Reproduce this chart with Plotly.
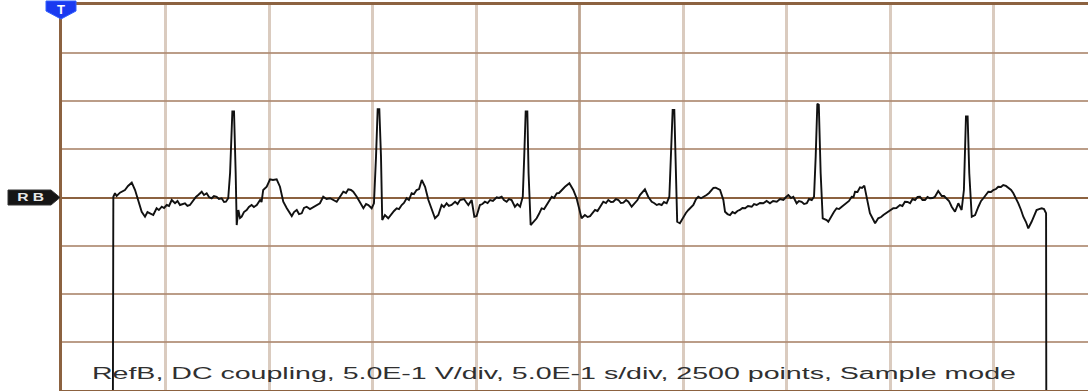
import plotly.graph_objects as go

# Reference waveform RefB: time (s) and voltage (V), 0.5 s/div and 0.5 V/div
time_s = [
    0.246, 0.248, 0.256, 0.264, 0.280, 0.304, 0.319, 0.337, 0.353, 0.369,
    0.385, 0.401, 0.413, 0.425, 0.441, 0.457, 0.468, 0.482, 0.493, 0.506,
    0.517, 0.530, 0.546, 0.558, 0.570, 0.594, 0.606, 0.618, 0.634, 0.647,
    0.658, 0.675, 0.686, 0.699, 0.710, 0.723, 0.734, 0.747, 0.758, 0.771,
    0.783, 0.792, 0.803, 0.812, 0.823, 0.831, 0.839, 0.844, 0.852, 0.860,
    0.868, 0.879, 0.892, 0.903, 0.916, 0.927, 0.941, 0.957, 0.964, 0.972,
    0.989, 1.005, 1.019, 1.037, 1.053, 1.069, 1.086, 1.097, 1.110, 1.121,
    1.134, 1.145, 1.158, 1.169, 1.182, 1.198, 1.214, 1.229, 1.246, 1.262,
    1.278, 1.295, 1.309, 1.327, 1.343, 1.359, 1.372, 1.383, 1.396, 1.407,
    1.424, 1.440, 1.456, 1.469, 1.480, 1.496, 1.507, 1.517, 1.525, 1.533,
    1.541, 1.547, 1.560, 1.576, 1.593, 1.604, 1.617, 1.628, 1.641, 1.652,
    1.665, 1.676, 1.689, 1.700, 1.713, 1.725, 1.738, 1.754, 1.770, 1.786,
    1.802, 1.818, 1.834, 1.845, 1.858, 1.869, 1.882, 1.899, 1.911, 1.923,
    1.942, 1.952, 1.963, 1.979, 1.992, 2.003, 2.010, 2.019, 2.031, 2.043,
    2.056, 2.068, 2.082, 2.100, 2.111, 2.124, 2.135, 2.148, 2.159, 2.172,
    2.188, 2.200, 2.213, 2.226, 2.233, 2.240, 2.248, 2.254, 2.264, 2.277,
    2.293, 2.304, 2.317, 2.329, 2.341, 2.353, 2.366, 2.377, 2.390, 2.401,
    2.414, 2.430, 2.451, 2.470, 2.486, 2.502, 2.510, 2.526, 2.539, 2.551,
    2.563, 2.575, 2.587, 2.599, 2.615, 2.628, 2.639, 2.652, 2.663, 2.676,
    2.688, 2.700, 2.712, 2.725, 2.736, 2.752, 2.768, 2.780, 2.792, 2.807,
    2.816, 2.832, 2.849, 2.860, 2.873, 2.884, 2.897, 2.908, 2.921, 2.934,
    2.942, 2.950, 2.958, 2.966, 2.972, 2.985, 3.001, 3.014, 3.026, 3.039,
    3.050, 3.063, 3.074, 3.087, 3.098, 3.114, 3.126, 3.139, 3.147, 3.158,
    3.169, 3.179, 3.195, 3.203, 3.215, 3.227, 3.239, 3.251, 3.263, 3.275,
    3.287, 3.300, 3.314, 3.332, 3.343, 3.356, 3.372, 3.388, 3.404, 3.420,
    3.435, 3.453, 3.469, 3.485, 3.498, 3.509, 3.522, 3.533, 3.549, 3.560,
    3.573, 3.585, 3.598, 3.609, 3.622, 3.633, 3.641, 3.649, 3.656, 3.665,
    3.675, 3.694, 3.702, 3.718, 3.729, 3.742, 3.754, 3.767, 3.778, 3.791,
    3.802, 3.815, 3.824, 3.831, 3.843, 3.855, 3.865, 3.876, 3.887, 3.903,
    3.915, 3.928, 3.943, 3.957, 3.968, 3.981, 3.992, 4.005, 4.016, 4.031,
    4.048, 4.060, 4.072, 4.085, 4.097, 4.109, 4.121, 4.133, 4.145, 4.157,
    4.169, 4.181, 4.193, 4.205, 4.217, 4.233, 4.250, 4.261, 4.274, 4.285,
    4.298, 4.314, 4.330, 4.346, 4.357, 4.367, 4.375, 4.383, 4.395, 4.411,
    4.427, 4.440, 4.451, 4.464, 4.475, 4.488, 4.499, 4.512, 4.523, 4.536,
    4.547, 4.560, 4.571, 4.585, 4.596, 4.609, 4.620, 4.633, 4.644, 4.657,
    4.668, 4.684, 4.696, 4.708, 4.720, 4.733, 4.744, 4.754, 4.755,
]

volts = [
    -2.000, 0.008, 0.044, 0.016, 0.050, 0.078, 0.120, 0.154, 0.078, -0.026,
    -0.148, -0.200, -0.151, -0.164, -0.182, -0.112, -0.130, -0.096, -0.109, -0.078,
    -0.088, -0.026, -0.060, -0.036, -0.078, -0.060, -0.088, -0.078, -0.026, 0.005,
    0.026, 0.060, 0.026, 0.044, 0.005, -0.008, 0.016, 0.008, -0.016, -0.008,
    -0.047, -0.044, -0.008, 0.255, 0.893, 0.893, 0.255, -0.286, -0.130, -0.213,
    -0.200, -0.151, -0.130, -0.099, -0.078, -0.099, -0.078, -0.026, -0.047, 0.078,
    0.112, 0.189, 0.182, 0.189, 0.112, -0.044, -0.112, -0.151, -0.193, -0.151,
    -0.130, -0.172, -0.164, -0.109, -0.096, -0.120, -0.102, -0.078, -0.060, 0.008,
    -0.016, -0.008, -0.026, -0.044, 0.008, 0.060, 0.047, 0.085, 0.078, 0.060,
    0.008, -0.060, -0.112, -0.068, -0.078, -0.112, -0.060, 0.425, 0.918, 0.918,
    0.425, -0.234, -0.182, -0.216, -0.164, -0.140, -0.112, -0.120, -0.078, -0.057,
    -0.008, -0.026, 0.044, 0.036, 0.078, 0.088, 0.182, 0.112, -0.026, -0.130,
    -0.216, -0.182, -0.078, -0.099, -0.060, -0.088, -0.078, -0.044, -0.068, -0.026,
    -0.016, -0.047, -0.078, -0.026, -0.200, -0.193, -0.130, -0.078, -0.068, -0.044,
    -0.057, -0.026, -0.036, 0.002, -0.005, 0.008, -0.026, -0.044, -0.016, -0.026,
    -0.096, -0.068, -0.096, 0.008, 0.425, 0.893, 0.893, 0.252, -0.286, -0.252,
    -0.216, -0.172, -0.112, -0.120, -0.078, -0.036, 0.008, -0.005, 0.044, 0.047,
    0.078, 0.112, 0.148, 0.078, -0.008, -0.148, -0.216, -0.182, -0.203, -0.193,
    -0.161, -0.130, -0.140, -0.096, -0.044, -0.057, -0.026, -0.047, -0.044, -0.016,
    -0.026, -0.057, -0.054, -0.026, -0.044, -0.096, -0.060, -0.026, 0.026, 0.068,
    0.085, 0.008, -0.044, -0.057, -0.078, -0.068, -0.078, -0.047, -0.060, 0.008,
    0.425, 0.910, 0.910, 0.252, -0.252, -0.268, -0.200, -0.161, -0.130, -0.099,
    -0.078, -0.016, 0.008, -0.008, 0.005, 0.026, 0.047, 0.078, 0.099, 0.102,
    0.088, 0.078, -0.026, -0.148, -0.172, -0.182, -0.151, -0.164, -0.140, -0.130,
    -0.109, -0.112, -0.088, -0.096, -0.068, -0.078, -0.057, -0.060, -0.036, -0.060,
    -0.036, -0.044, -0.016, -0.026, 0.005, 0.026, -0.005, 0.008, -0.060, -0.036,
    -0.044, -0.068, -0.060, -0.016, -0.026, 0.008, 0.425, 0.973, 0.963, 0.252,
    -0.216, -0.234, -0.252, -0.182, -0.151, -0.112, -0.120, -0.096, -0.078, -0.060,
    -0.036, 0.008, 0.005, 0.060, 0.057, 0.106, 0.099, 0.123, 0.008, -0.164,
    -0.213, -0.268, -0.216, -0.203, -0.182, -0.161, -0.148, -0.120, -0.112, -0.109,
    -0.078, -0.088, -0.044, -0.047, -0.060, -0.016, -0.026, 0.005, 0.008, -0.026,
    -0.026, 0.005, -0.008, -0.005, 0.008, 0.068, 0.016, 0.016, -0.008, -0.036,
    -0.096, -0.148, -0.060, -0.130, 0.078, 0.841, 0.841, 0.252, -0.200, -0.182,
    -0.096, -0.036, -0.008, 0.036, 0.060, 0.057, 0.078, 0.088, 0.112, 0.109,
    0.130, 0.120, 0.102, 0.078, 0.044, -0.005, -0.060, -0.130, -0.200, -0.255,
    -0.320, -0.252, -0.193, -0.130, -0.120, -0.112, -0.120, -0.164, -2.000,
]

info_text = "RefB, DC coupling, 5.0E-1 V/div, 5.0E-1 s/div, 2500 points, Sample mode"
channel_label = "R B"
trigger_label = "T"

# Screen geometry (pixels) used for the overlay markers
W, H = 1088, 391
ML, MR, MT, MB = 62, 0, 5, 1
PW, PH = W - ML - MR, H - MT - MB
S_PER_DIV, V_PER_DIV = 0.5, 0.5
PX_PER_DIV_X = 103.5
X_MAX = PW / PX_PER_DIV_X * S_PER_DIV


def px(x):
    return (x - ML) / PW


def py(y):
    return (H - MB - y) / PH


BROWN = "rgb(140,98,64)"
GRID_V = "rgba(205,185,170,0.75)"
GRID_H = "rgba(175,140,115,0.85)"

fig = go.Figure()
fig.add_trace(go.Scatter(
    x=time_s, y=volts, mode="lines",
    line=dict(color="#111111", width=1.9),
    hoverinfo="skip", showlegend=False,
))

shapes = [
    # centre vertical graticule line
    dict(type="line", xref="x", yref="paper", x0=2.5, x1=2.5, y0=0, y1=1,
         line=dict(color=BROWN, width=2.5), layer="below"),
    # trigger marker (blue tab pointing down)
    dict(type="path", xref="paper", yref="paper", layer="above",
         path=(f"M {px(46)},{py(1)} L {px(76)},{py(1)} L {px(76)},{py(11)} "
               f"L {px(61)},{py(19)} L {px(46)},{py(11)} Z"),
         fillcolor="#1a3af0", line=dict(color="#3060ff", width=1)),
    # channel reference marker (black tag pointing right)
    dict(type="path", xref="paper", yref="paper", layer="above",
         path=(f"M {px(8)},{py(190)} L {px(51)},{py(190)} L {px(60)},{py(197.5)} "
               f"L {px(51)},{py(205)} L {px(8)},{py(205)} Z"),
         fillcolor="#151515", line=dict(color="#333333", width=1)),
]

annotations = [
    dict(text=info_text, xref="paper", yref="paper", x=px(554), y=py(373),
         xanchor="center", yanchor="middle", showarrow=False,
         font=dict(family="Liberation Sans, Arial", size=16, color="#303030")),
    dict(text=f"<b>{trigger_label}</b>", xref="paper", yref="paper", x=px(61), y=py(9),
         xanchor="center", yanchor="middle", showarrow=False,
         font=dict(family="Liberation Sans, Arial", size=13, color="white")),
    dict(text=f"<b>{channel_label}</b>", xref="paper", yref="paper", x=px(30), y=py(197.5),
         xanchor="center", yanchor="middle", showarrow=False,
         font=dict(family="Liberation Sans, Arial", size=10, color="#e8e8e8")),
]

fig.update_layout(
    width=W, height=H,
    margin=dict(l=ML, r=MR, t=MT, b=MB, pad=0),
    paper_bgcolor="white", plot_bgcolor="white",
    showlegend=False,
    shapes=shapes, annotations=annotations,
    xaxis=dict(range=[0, X_MAX], dtick=S_PER_DIV, tick0=0,
               showgrid=True, gridcolor=GRID_V, gridwidth=3,
               zeroline=False, showticklabels=False, ticks="",
               showline=True, linecolor=BROWN, linewidth=3, mirror=True,
               fixedrange=True),
    yaxis=dict(range=[-4 * V_PER_DIV, 4 * V_PER_DIV], dtick=V_PER_DIV, tick0=0,
               showgrid=True, gridcolor=GRID_H, gridwidth=1.5,
               zeroline=True, zerolinecolor=BROWN, zerolinewidth=2,
               showticklabels=False, ticks="",
               showline=True, linecolor=BROWN, linewidth=3,
               fixedrange=True),
)

# Stretch the status line and tag label horizontally, as the scope screen does
post_js = """
var stretch = {};
stretch[%s] = 924;
stretch[%s] = 27;
document.querySelectorAll('.annotation-text').forEach(function (el) {
  var w = stretch[el.textContent];
  if (w) {
    el.setAttribute('textLength', w);
    el.setAttribute('lengthAdjust', 'spacingAndGlyphs');
  }
});
""" % (repr(info_text), repr(channel_label))

fig.write_html("out.html", config={"displayModeBar": False}, post_script=post_js)
